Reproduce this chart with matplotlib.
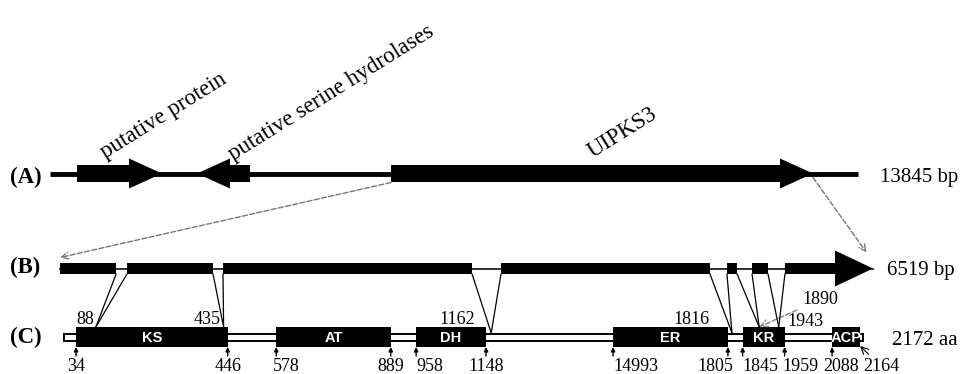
import matplotlib.pyplot as plt
from matplotlib.patches import Rectangle, ConnectionPatch

plt.rcParams['font.family'] = ['Liberation Serif', 'DejaVu Serif']

# (A) genomic region, bp
region_len = 13845
gene_names = ['putative protein', 'putative serine hydrolases', 'UIPKS3']
gene_start = [463, 2519, 5843]
gene_end = [1919, 3427, 13074]
gene_strand = [1, -1, 1]

# (B) UIPKS3 gene, exons in bp
gene_len = 6519
exon_start = [0, 537, 1307, 3536, 5348, 5549, 5813]
exon_end = [450, 1227, 3304, 5212, 5429, 5677, 6519]

# (C) protein domains, aa
protein_len = 2172
domain_names = ['KS', 'AT', 'DH', 'ER', 'KR', 'ACP']
domain_start = [34, 578, 958, 1493, 1845, 2088]
domain_end = [446, 889, 1148, 1805, 1959, 2164]
start_labels = ['34', '578', '958', '14993', '1845', '2088']
end_labels = ['446', '889', '1148', '1805', '1959', '2164']
intron_aa = [88, 435, 1162, 1816, 1890, 1943]

W, H = 960, 374
fig = plt.figure(figsize=(W / 100, H / 100), dpi=100)


def row_axes(lo_px, hi_px, lo_val, hi_val):
    # one transparent axes per row, x in the row's own units, y in pixels
    ax = fig.add_axes([0, 0, 1, 1])
    k = (hi_val - lo_val) / (hi_px - lo_px)
    ax.set_xlim(lo_val - lo_px * k, lo_val + (W - lo_px) * k)
    ax.set_ylim(H, 0)
    ax.axis('off')
    ax.patch.set_visible(False)
    return ax


def px(ax, n):
    lo, hi = ax.get_xlim()
    return n * (hi - lo) / W


def arrow_shape(ax, x0, x1, strand, yc, body, head, head_px):
    hl = px(ax, head_px)
    if strand > 0:
        hs = x1 - hl
        xs = [x0, hs, hs, x1, hs, hs, x0]
    else:
        hs = x0 + hl
        xs = [x1, hs, hs, x0, hs, hs, x1]
    ys = [yc - body, yc - body, yc - head, yc, yc + head, yc + body, yc + body]
    ax.fill(xs, ys, color='black', lw=0, zorder=2)


axA = row_axes(50, 858, 0, region_len)
axB = row_axes(60, 873, 0, gene_len)
axC = row_axes(63.5, 863, 0, protein_len)

# ---- (A)
yA = 173.5
axA.plot([0, region_len], [yA, yA], color='black', lw=3.5, solid_capstyle='butt', zorder=1)
label_off = [(-14, 15), (10, 13), (-9, 16)]
for name, s, e, st, off in zip(gene_names, gene_start, gene_end, gene_strand, label_off):
    arrow_shape(axA, s, e, st, yA, 8.5, 15, 33)
    axA.annotate(name, xy=((s + e) / 2, yA), xytext=off, textcoords='offset pixels',
                 rotation=32, rotation_mode='anchor', ha='left', va='baseline',
                 fontsize=16.5)

# ---- (B)
yB = 268.5
axB.plot([0, gene_len], [yB, yB], color='#222222', lw=1.3, zorder=1)
for s, e in zip(exon_start[:-1], exon_end[:-1]):
    axB.add_patch(Rectangle((s, yB - 5.5), e - s, 11, color='black', lw=0, zorder=2))
arrow_shape(axB, exon_start[-1], exon_end[-1], 1, yB, 5.5, 18, 38)

# ---- (C)
yC = 337
axC.add_patch(Rectangle((0, yC - 3.5), protein_len, 7, fc='white', ec='black', lw=1.4))
for name, s, e in zip(domain_names, domain_start, domain_end):
    axC.add_patch(Rectangle((s, yC - 10), e - s, 20, color='black', lw=0, zorder=2))
    axC.text((s + e) / 2, yC + 0.5, name, color='white', fontsize=10.5, fontweight='bold',
             family='Liberation Sans', ha='center', va='center', zorder=3)

# ticks under the domains
tick_vals = domain_start + domain_end
tick_text = start_labels + end_labels
tick_fmt = {'34': ('center', 0), '446': ('center', 0), '578': ('left', -3),
            '889': ('center', 0), '958': ('left', 0), '1148': ('center', 0),
            '14993': ('left', 0), '1805': ('right', 5), '1845': ('left', 0),
            '1959': ('left', -2), '2088': ('left', -9), '2164': ('left', 3)}
y_tick_text = 371
num_size = 13
for v, t in zip(tick_vals, tick_text):
    ha, dx = tick_fmt[t]
    if t == '2164':
        axC.annotate(t, xy=(v, yC + 9), xytext=(dx, -(y_tick_text - yC - 9)),
                     textcoords='offset pixels', ha=ha, va='baseline', fontsize=num_size,
                     arrowprops=dict(arrowstyle='->', color='black', lw=0.8,
                                     shrinkA=1, shrinkB=0))
        continue
    axC.annotate('', xy=(v, yC + 10), xytext=(v, yC + 19),
                 arrowprops=dict(arrowstyle='-|>', color='black', lw=1,
                                 mutation_scale=6, shrinkA=0, shrinkB=0))
    axC.annotate(t, xy=(v, y_tick_text), xytext=(dx, 0), textcoords='offset pixels',
                 ha=ha, va='baseline', fontsize=num_size)


def in_domain(a):
    return any(s <= a <= e for s, e in zip(domain_start, domain_end))


# intron positions: lines from (B) down to (C)
for i, a in enumerate(intron_aa):
    yc = yC - 10 if in_domain(a) else yC - 4
    for xb in (exon_end[i], exon_start[i + 1]):
        fig.add_artist(ConnectionPatch(xyA=(xb, yB + 5.5), coordsA=axB.transData,
                                       xyB=(a, yc), coordsB=axC.transData,
                                       color='black', lw=0.9))

top_fmt = {88: ('right', -2, 3), 435: ('right', -3, 3), 1162: ('right', -16, 3),
           1816: ('right', -22, 3), 1943: ('left', 9, 1)}
for a in intron_aa:
    yc = yC - 10 if in_domain(a) else yC - 4
    if a == 1890:
        axC.annotate(str(a), xy=(a, yc), xytext=(43, 23), textcoords='offset pixels',
                     ha='left', va='baseline', fontsize=num_size,
                     arrowprops=dict(arrowstyle='->', ls='--', color='#888888', lw=1,
                                     shrinkA=2, shrinkB=0))
        continue
    ha, dx, dy = top_fmt[a]
    axC.annotate(str(a), xy=(a, yC - 10), xytext=(dx, dy), textcoords='offset pixels',
                 ha=ha, va='baseline', fontsize=num_size)

# zoom guides from (A) to (B)
fig.add_artist(ConnectionPatch(xyA=(gene_start[2], yA + 9), coordsA=axA.transData,
                               xyB=(0, yB - 11), coordsB=axB.transData,
                               arrowstyle='->', ls='--', color='#777777', lw=1,
                               mutation_scale=12))
fig.add_artist(ConnectionPatch(xyA=(gene_end[2], yA + 4), coordsA=axA.transData,
                               xyB=(exon_end[-1], yB - 7), coordsB=axB.transData,
                               arrowstyle='->', ls='--', color='#777777', lw=1,
                               mutation_scale=12, shrinkB=8))

# panel letters and sizes
for lab, y in [('(A)', 183), ('(B)', 273), ('(C)', 343)]:
    fig.text(10 / W, 1 - y / H, lab, fontsize=16.5, fontweight='bold', va='baseline')
for lab, x, y in [('13845 bp', 880, 182), ('6519 bp', 887, 275), ('2172 aa', 892, 345)]:
    fig.text(x / W, 1 - y / H, lab, fontsize=15, va='baseline')

fig.savefig('out.png', dpi=100)
